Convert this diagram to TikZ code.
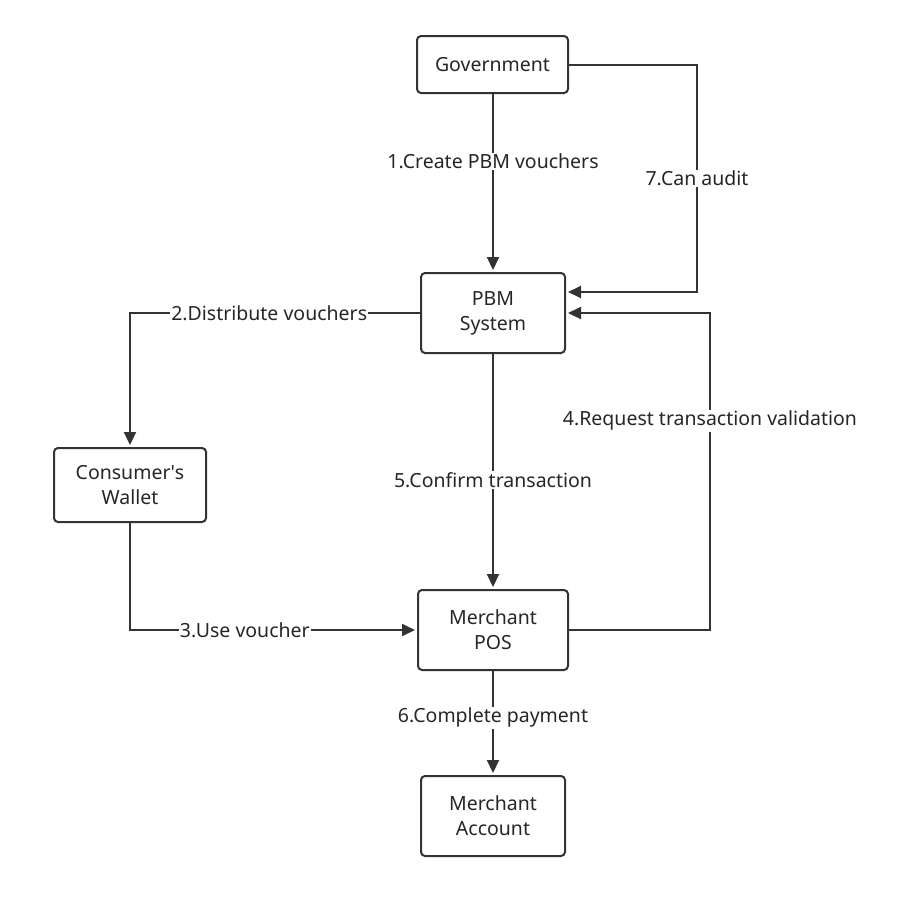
\documentclass[tikz,border=0pt]{standalone}
\usepackage{fontspec}
\setmainfont{Noto Sans}
\usetikzlibrary{arrows.meta,calc}
\definecolor{ln}{HTML}{333333}
\definecolor{tx}{HTML}{262626}
\tikzset{
  box/.style={draw=ln, line width=2pt, rounded corners=4pt, fill=white, align=center,
    text=tx, font=\fontsize{19.5}{25}\selectfont, inner sep=0pt},
  conn/.style={draw=ln, line width=2pt, -{Triangle[length=13pt,width=12pt]}, shorten >=2pt},
  lbl/.style={fill=white, text=tx, font=\fontsize{19.5}{22}\selectfont, inner sep=1pt}
}
\begin{document}
\begin{tikzpicture}[x=1pt,y=-1pt]
\useasboundingbox (0,0) rectangle (905,906);
\node[box, minimum width=151pt, minimum height=57pt] (gov) at (492.5,64.5) {Government};
\node[box, minimum width=144pt, minimum height=80pt] (pbm) at (493,313) {PBM\\System};
\node[box, minimum width=152pt, minimum height=74pt] (wal) at (130,485) {Consumer\textquotesingle s\\Wallet};
\node[box, minimum width=150pt, minimum height=80pt] (pos) at (493,630) {Merchant\\POS};
\node[box, minimum width=144pt, minimum height=80pt] (acc) at (493,816) {Merchant\\Account};

\coordinate (audA) at (697,64.5);
\coordinate (audB) at (697,292);
\coordinate (audT) at (pbm.east |- audB);
\coordinate (reqA) at (710,630);
\coordinate (reqB) at (710,313);
\coordinate (disA) at (130,313);
\coordinate (useA) at (130,630);

\draw[conn] (gov.south -| pbm.north) -- node[lbl, pos=0.38]{1.Create PBM vouchers} (pbm.north);
\draw[conn] (gov.east) -- (audA) -- node[lbl, pos=0.5]{7.Can audit} (audB) -- (audT);
\draw[conn] (pbm.west) -- node[lbl, pos=0.52]{2.Distribute vouchers} (disA) -- (wal.north);
\draw[conn] (wal.south) -- (useA) -- node[lbl, pos=0.4]{3.Use voucher} (pos.west);
\draw[conn] (pos.east) -- (reqA) -- node[lbl, pos=0.66]{4.Request transaction validation} (reqB) -- (pbm.east);
\draw[conn] (pbm.south) -- node[lbl, pos=0.536]{5.Confirm transaction} (pos.north);
\draw[conn] (pos.south) -- node[lbl, pos=0.45]{6.Complete payment} (acc.north);
\end{tikzpicture}
\end{document}
